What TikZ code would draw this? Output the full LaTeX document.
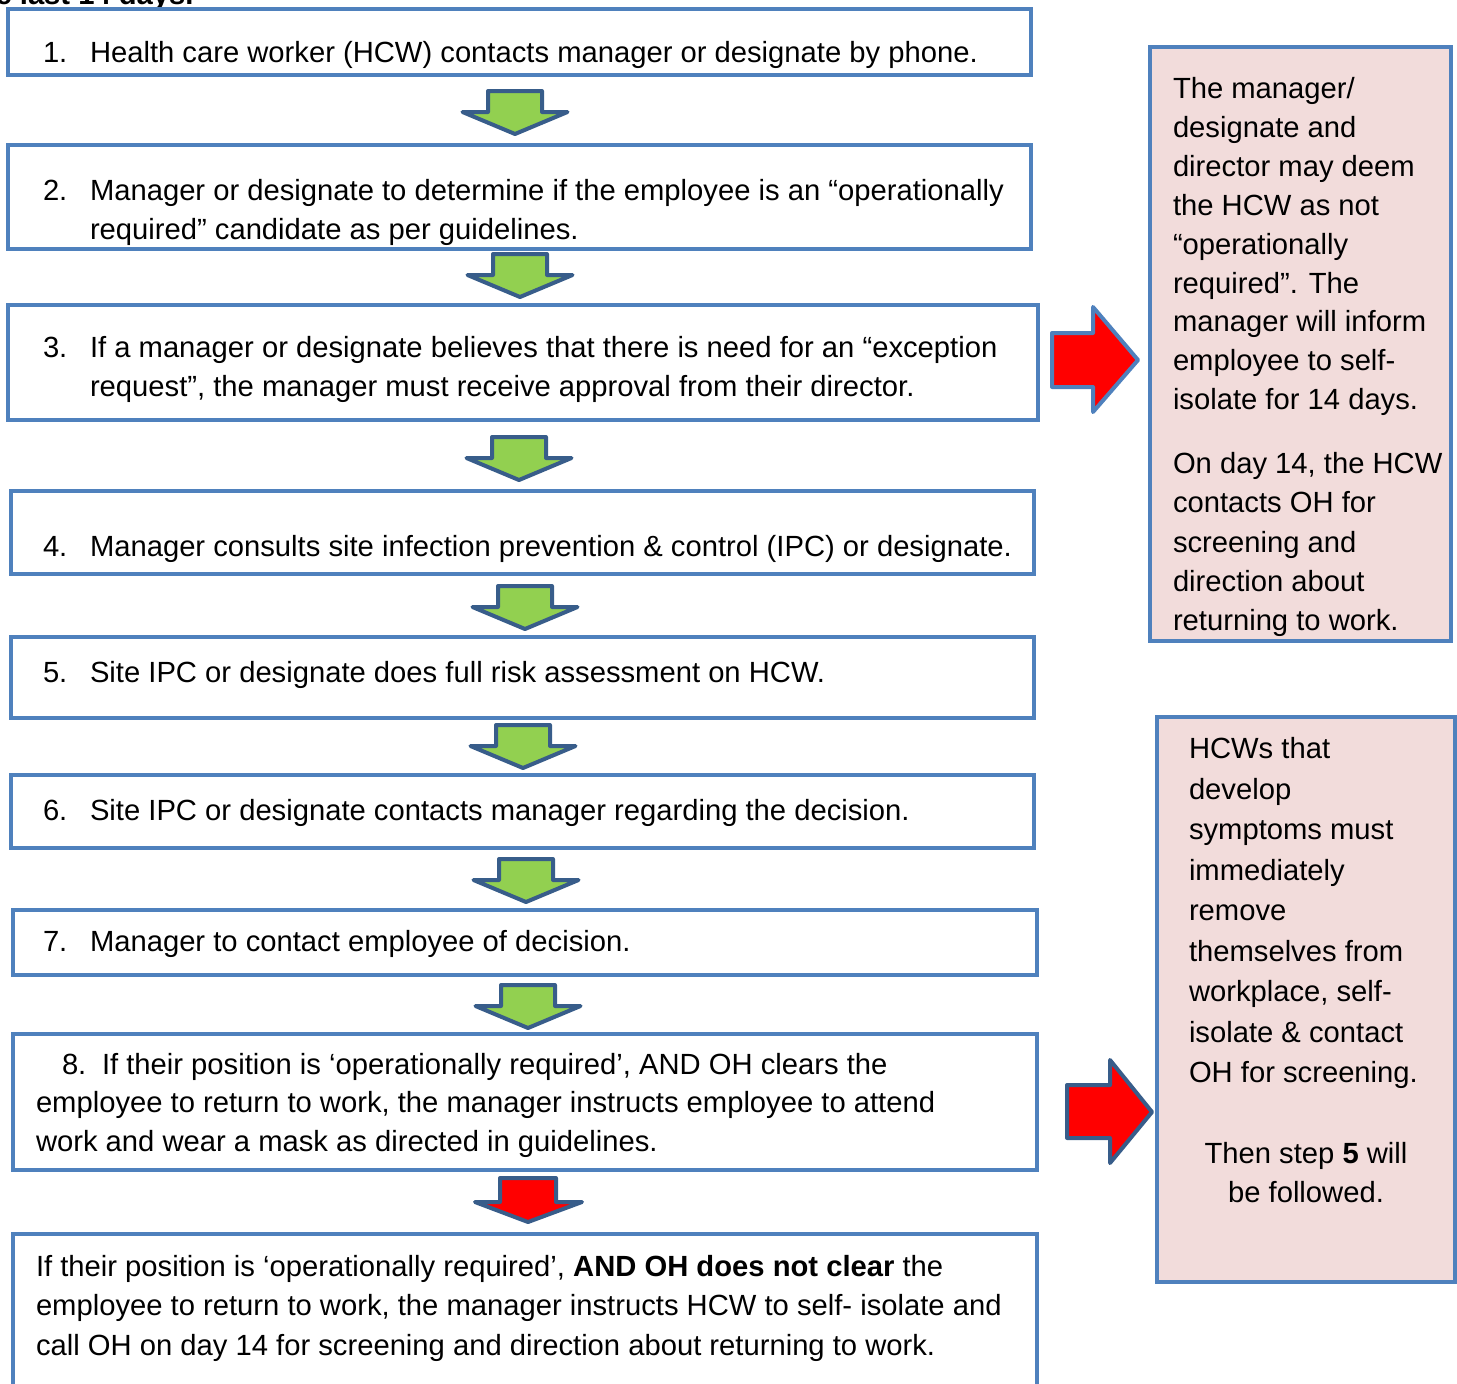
\documentclass[tikz,border=0pt]{standalone}
\usepackage{fontspec}
\setmainfont{Liberation Sans}
\usetikzlibrary{fit}
\definecolor{boxblue}{HTML}{4F81BD}
\definecolor{darkblue}{HTML}{385D8A}
\definecolor{arrgreen}{HTML}{92D050}
\definecolor{boxpink}{HTML}{F2DCDB}
\definecolor{arrred}{HTML}{FF0000}
\tikzset{
  mbox/.style={draw=boxblue, line width=2pt, fill=white, inner sep=0pt, outer sep=0pt},
  sbox/.style={draw=boxblue, line width=2pt, fill=boxpink, inner sep=0pt, outer sep=0pt},
  ln/.style={anchor=base west, inner sep=0pt, outer sep=0pt, font=\fontsize{14.6pt}{18pt}\selectfont},
  lnc/.style={anchor=base, inner sep=0pt, outer sep=0pt, font=\fontsize{14.6pt}{18pt}\selectfont},
  blk/.style={line width=2pt, line join=round},
}
\newcommand\blockdown[4]{% name, centre x, top y, fill
  \draw[blk, draw=darkblue, fill=#4] (#2-27,#3) -- (#2+27,#3) -- (#2+27,#3+21) -- (#2+52.5,#3+21)
    -- (#2,#3+43) coordinate (#1) -- (#2-52.5,#3+21) -- (#2-27,#3+21) -- cycle;}
\begin{document}
\begin{tikzpicture}[x=0.5pt,y=-0.5pt]
\useasboundingbox (0,0) rectangle (1457,1383);

% cut-off heading
\node[ln, font=\fontsize{14.6pt}{18pt}\selectfont\bfseries] (head) at (-32,4) {the last 14 days.};

% main boxes
\node[mbox, fit={(8,9)(1031,75)}] (b1) {};
\node[mbox, fit={(8,145)(1031,249)}] (b2) {};
\node[mbox, fit={(8,305)(1038,420)}] (b3) {};
\node[mbox, fit={(11,491)(1034,574)}] (b4) {};
\node[mbox, fit={(11,637)(1034,718)}] (b5) {};
\node[mbox, fit={(11,775)(1034,848)}] (b6) {};
\node[mbox, fit={(13,910)(1037,975)}] (b7) {};
\node[mbox, fit={(13,1034)(1037,1170)}] (b8) {};
\node[mbox, fit={(13,1234)(1037,1420)}] (b9) {};

% side boxes
\node[sbox, fit={(1150,47)(1451,641)}] (r1) {};
\node[sbox, fit={(1157,717)(1455,1282)}] (r2) {};

% down arrows
\blockdown{a1}{515}{91}{arrgreen}
\blockdown{a2}{520}{254}{arrgreen}
\blockdown{a3}{519}{437}{arrgreen}
\blockdown{a4}{525}{586}{arrgreen}
\blockdown{a5}{523}{725}{arrgreen}
\blockdown{a6}{526}{859}{arrgreen}
\blockdown{a7}{528}{985}{arrgreen}
\draw[blk, draw=darkblue, fill=arrred] (500,1178) -- (556,1178) -- (556,1202) -- (582,1202)
  -- (528,1222) coordinate (a8) -- (475,1202) -- (500,1202) -- cycle;

% right arrows
\draw[blk, draw=boxblue, fill=arrred] (1052,333) -- (1093,333) -- (1093,307) -- (1138,360) coordinate (ar1)
  -- (1093,412) -- (1093,387) -- (1052,387) -- cycle;
\draw[blk, draw=darkblue, fill=arrred] (1067,1085) -- (1110,1085) -- (1110,1060) -- (1152,1112) coordinate (ar2)
  -- (1110,1163) -- (1110,1138) -- (1067,1138) -- cycle;

% box 1
\node[ln] (n1) at (43,62) {1.};
\node[ln] (t1) at (90,62) {Health care worker (HCW) contacts manager or designate by phone.};
% box 2
\node[ln] (n2) at (43,200) {2.};
\node[ln] (t2a) at (90,200) {Manager or designate to determine if the employee is an “operationally};
\node[ln] (t2b) at (90,239) {required” candidate as per guidelines.};
% box 3
\node[ln] (n3) at (43,357) {3.};
\node[ln] (t3a) at (90,357) {If a manager or designate believes that there is need for an “exception};
\node[ln] (t3b) at (90,396) {request”, the manager must receive approval from their director.};
% box 4
\node[ln] (n4) at (43,556) {4.};
\node[ln] (t4) at (90,556) {Manager consults site infection prevention \& control (IPC) or designate.};
% box 5
\node[ln] (n5) at (43,682) {5.};
\node[ln] (t5) at (90,682) {Site IPC or designate does full risk assessment on HCW.};
% box 6
\node[ln] (n6) at (43,820) {6.};
\node[ln] (t6) at (90,820) {Site IPC or designate contacts manager regarding the decision.};
% box 7
\node[ln] (n7) at (43,951) {7.};
\node[ln] (t7) at (90,951) {Manager to contact employee of decision.};
% box 8
\node[ln] (n8) at (62,1074) {8.};
\node[ln] (t8a) at (102,1074) {If their position is ‘operationally required’, AND OH clears the};
\node[ln] (t8b) at (36,1112) {employee to return to work, the manager instructs employee to attend};
\node[ln] (t8c) at (36,1151) {work and wear a mask as directed in guidelines.};
% box 9
\node[ln] (t9a) at (36,1276) {If their position is ‘operationally required’, \textbf{AND OH does not clear} the};
\node[ln] (t9b) at (36,1315) {employee to return to work, the manager instructs HCW to self- isolate and};
\node[ln] (t9c) at (36,1355) {call OH on day 14 for screening and direction about returning to work.};

% side box 1
\node[ln] (s1a) at (1173,98) {The manager/};
\node[ln] (s1b) at (1173,137) {designate and};
\node[ln] (s1c) at (1173,176) {director may deem};
\node[ln] (s1d) at (1173,215) {the HCW as not};
\node[ln] (s1e) at (1173,254) {“operationally};
\node[ln] (s1f) at (1173,293) {required”. The};
\node[ln] (s1g) at (1173,331) {manager will inform};
\node[ln] (s1h) at (1173,370) {employee to self-};
\node[ln] (s1i) at (1173,409) {isolate for 14 days.};
\node[ln] (s1j) at (1173,473) {On day 14, the HCW};
\node[ln] (s1k) at (1173,512) {contacts OH for};
\node[ln] (s1l) at (1173,552) {screening and};
\node[ln] (s1m) at (1173,591) {direction about};
\node[ln] (s1n) at (1173,630) {returning to work.};

% side box 2
\node[ln] (s2a) at (1189,758) {HCWs that};
\node[ln] (s2b) at (1189,799) {develop};
\node[ln] (s2c) at (1189,839) {symptoms must};
\node[ln] (s2d) at (1189,880) {immediately};
\node[ln] (s2e) at (1189,920) {remove};
\node[ln] (s2f) at (1189,961) {themselves from};
\node[ln] (s2g) at (1189,1001) {workplace, self-};
\node[ln] (s2h) at (1189,1042) {isolate \& contact};
\node[ln] (s2i) at (1189,1082) {OH for screening.};
\node[lnc] (s2j) at (1306,1163) {Then step \textbf{5} will};
\node[lnc] (s2k) at (1306,1202) {be followed.};
\end{tikzpicture}
\end{document}
